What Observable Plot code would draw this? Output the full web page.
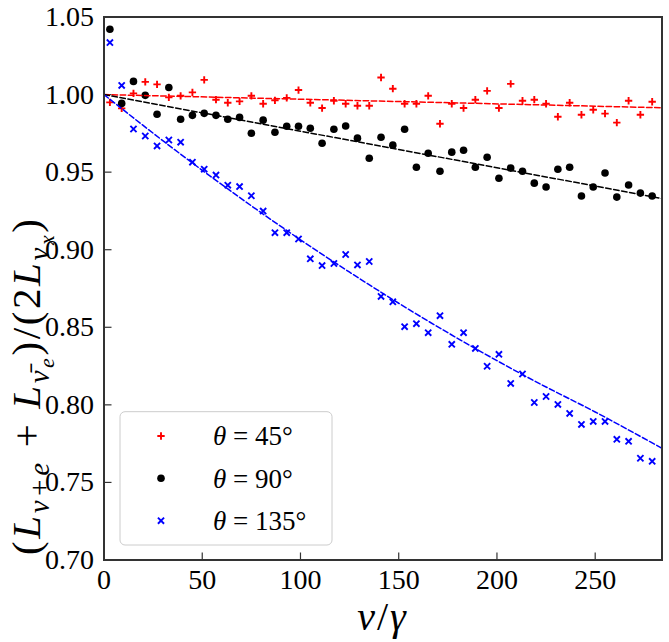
<!DOCTYPE html>
<html><head><meta charset="utf-8">
<script src="https://cdn.jsdelivr.net/npm/d3@7"></script>
<script src="https://cdn.jsdelivr.net/npm/@observablehq/plot@0.6"></script>
<style>
html,body{margin:0;padding:0;background:#fff;}
#chart{width:669px;height:642px;}
</style></head><body><div id="chart"></div>
<script>
// ν/γ sample positions
const nu = [3,9,15,21,27,33,39,45,51,57,63,69,75,81,87,93,99,
  105,111,117,123,129,135,141,147,153,159,165,171,177,183,189,
  195,201,207,213,219,225,231,237,243,249,255,261,267,273,279];
// θ = 45°
const theta45 = [0.9950,0.9911,1.0008,1.0082,1.0066,0.9982,0.9992,1.0014,1.0095,0.9967,0.9947,0.9956,0.9992,0.9941,0.9963,0.9979,1.0029,
  0.9947,0.9913,0.9960,0.9941,0.9928,0.9928,1.0110,1.0038,0.9941,0.9941,0.9992,0.9812,0.9941,0.9913,0.9967,
  1.0024,0.9913,1.0069,0.9960,0.9967,0.9941,0.9857,0.9947,0.9870,0.9902,0.9877,0.9819,0.9960,0.9870,0.9954];
// θ = 90°
const theta90 = [1.0421,0.9943,1.0085,0.9995,0.9873,1.0046,0.9841,0.9866,0.9879,0.9866,0.9841,0.9853,0.9751,0.9835,0.9757,0.9796,0.9796,
  0.9783,0.9686,0.9776,0.9797,0.9719,0.9590,0.9725,0.9674,0.9776,0.9532,0.9622,0.9506,0.9629,0.9641,0.9532,
  0.9596,0.9461,0.9526,0.9506,0.9429,0.9404,0.9519,0.9532,0.9346,0.9404,0.9494,0.9339,0.9417,0.9365,0.9346];
// θ = 135°
const theta135 = [1.0335,1.0059,0.9778,0.9733,0.9669,0.9707,0.9693,0.9564,0.9519,0.9481,0.9416,0.9407,0.9348,0.9249,0.9110,0.9110,0.9069,
  0.8941,0.8898,0.8911,0.8969,0.8902,0.8924,0.8699,0.8664,0.8504,0.8523,0.8465,0.8575,0.8390,0.8465,0.8364,
  0.8249,0.8326,0.8138,0.8199,0.8015,0.8054,0.8003,0.7945,0.7874,0.7893,0.7893,0.7778,0.7765,0.7656,0.7636];
// dashed fit curves
const fitX = [0, 284];
const fit45 = [1.0, 0.9915];
const fit90 = [1.0, 0.933];
const curveX = [0,25,50,75,100,125,150,175,200,225,250,284];
const fit135 = [1.000,0.9751,0.9512,0.9283,0.9064,0.8855,0.8655,0.8465,0.8285,0.8115,0.7954,0.772];
const xTicks = [0,50,100,150,200,250];
const yTicks = [0.70,0.75,0.80,0.85,0.90,0.95,1.00,1.05];
const legendLabels = ["45°","90°","135°"];

const W = 669, H = 642;
const mL = 103.5, mR = 7.5, mT = 16.5, mB = 82.5;
const fw = W - mL - mR, fh = H - mT - mB;
const zip = (xs, ys) => xs.map((x, i) => ({x, y: ys[i]}));
const RED = "#ff0000", BLUE = "#0000ff", BLACK = "#000000";
const dash = "5.5,2.6";
const FONT = "'Liberation Serif', serif";

const plot = Plot.plot({
  width: W, height: H,
  marginLeft: mL, marginRight: mR, marginTop: mT, marginBottom: mB,
  style: {fontFamily: FONT, fontSize: "28px", color: "#000", background: "#fff", overflow: "visible"},
  x: {domain: [0, 284], label: null},
  y: {domain: [0.70, 1.05], label: null},
  marks: [
    Plot.axisX({ticks: xTicks, tickSize: 0, tickPadding: 9, fontSize: 28, label: null, tickFormat: d => String(d)}),
    Plot.axisY({ticks: yTicks, tickSize: 0, tickPadding: 10, fontSize: 28, label: null, tickFormat: d3.format(".2f")}),
    Plot.tickX(xTicks, {x: d => d, insetTop: fh - 7, stroke: "#333", strokeWidth: 1.2}),
    Plot.tickY(yTicks, {y: d => d, insetRight: fw - 8, stroke: "#333", strokeWidth: 1.2}),
    Plot.dot(zip(nu, theta45), {x: "x", y: "y", symbol: "plus", r: 2.5, stroke: RED, strokeWidth: 1.9}),
    Plot.dot(zip(nu, theta90), {x: "x", y: "y", symbol: "circle", r: 3.8, fill: BLACK, stroke: null}),
    Plot.dot(zip(nu, theta135), {x: "x", y: "y", symbol: "times", r: 2.9, stroke: BLUE, strokeWidth: 1.9}),
    Plot.line(zip(fitX, fit45), {x: "x", y: "y", stroke: RED, strokeWidth: 1.5, strokeDasharray: dash}),
    Plot.line(zip(fitX, fit90), {x: "x", y: "y", stroke: BLACK, strokeWidth: 1.5, strokeDasharray: dash}),
    Plot.line(zip(curveX, fit135), {x: "x", y: "y", stroke: BLUE, strokeWidth: 1.5, strokeDasharray: dash, curve: "natural"}),
    Plot.frame({stroke: "#333", strokeWidth: 2})
  ]
});
document.getElementById("chart").appendChild(plot);

const svg = d3.select(plot);
// Legend
const lg = svg.append("g").attr("font-family", FONT).attr("font-size", 27).attr("text-anchor", "start");
lg.append("rect").attr("x", 120).attr("y", 411.7).attr("width", 212).attr("height", 133.3)
  .attr("rx", 5).attr("fill", "rgba(255,255,255,0.8)").attr("stroke", "#cccccc").attr("stroke-width", 1);
const legendSyms = [
  {type: d3.symbolPlus, size: Math.PI * 2.5 * 2.5, stroke: RED, fill: "none", sw: 1.9},
  {type: d3.symbolCircle, size: Math.PI * 3.8 * 3.8, stroke: "none", fill: BLACK, sw: 0},
  {type: d3.symbolTimes, size: Math.PI * 2.9 * 2.9, stroke: BLUE, fill: "none", sw: 1.9}
];
const rowY = [436, 478.3, 520.7];
legendSyms.forEach((s, i) => {
  lg.append("path").attr("d", d3.symbol().type(s.type).size(s.size)())
    .attr("transform", `translate(161,${rowY[i]})`)
    .attr("fill", s.fill).attr("stroke", s.stroke).attr("stroke-width", s.sw);
  const t = lg.append("text").attr("x", 213).attr("y", rowY[i]).attr("dy", "0.35em");
  t.append("tspan").attr("font-style", "italic").text("θ");
  t.append("tspan").text(" = " + legendLabels[i]);
});

// Axis titles
const xt = svg.append("text").attr("x", mL + fw / 2).attr("y", 630).attr("text-anchor", "middle")
  .attr("font-family", FONT).attr("font-size", 40).attr("font-style", "italic").attr("letter-spacing", 2);
xt.append("tspan").text("ν");
xt.append("tspan").attr("font-style", "normal").text("/");
xt.append("tspan").text("γ");

const yt = svg.append("text").attr("transform", `translate(40,555) rotate(-90)`)
  .attr("text-anchor", "start").attr("font-family", FONT).attr("font-size", 41).attr("letter-spacing", 2.6);
const B = 41, S1 = 29, S2 = 22, O1 = 9, O2 = 14;
const parts = [
  ["(", 0, false], ["L", 0, true], ["ν+e", 1, true], [" + ", 0, false], ["L", 0, true], ["ν\u0304", 1, true], ["e", 2, true],
  [")/(2", 0, false], ["L", 0, true], ["ν", 1, true], ["x", 2, true], [")", 0, false]
];
let prevOff = 0;
parts.forEach(([txt, lv, it]) => {
  const sp = yt.append("tspan").text(txt);
  if (it) sp.attr("font-style", "italic");
  sp.attr("font-size", lv === 0 ? B : lv === 1 ? S1 : S2);
  const off = lv === 0 ? 0 : lv === 1 ? O1 : O2;
  if (off !== prevOff) sp.attr("dy", off - prevOff);
  prevOff = off;
});
</script></body></html>
